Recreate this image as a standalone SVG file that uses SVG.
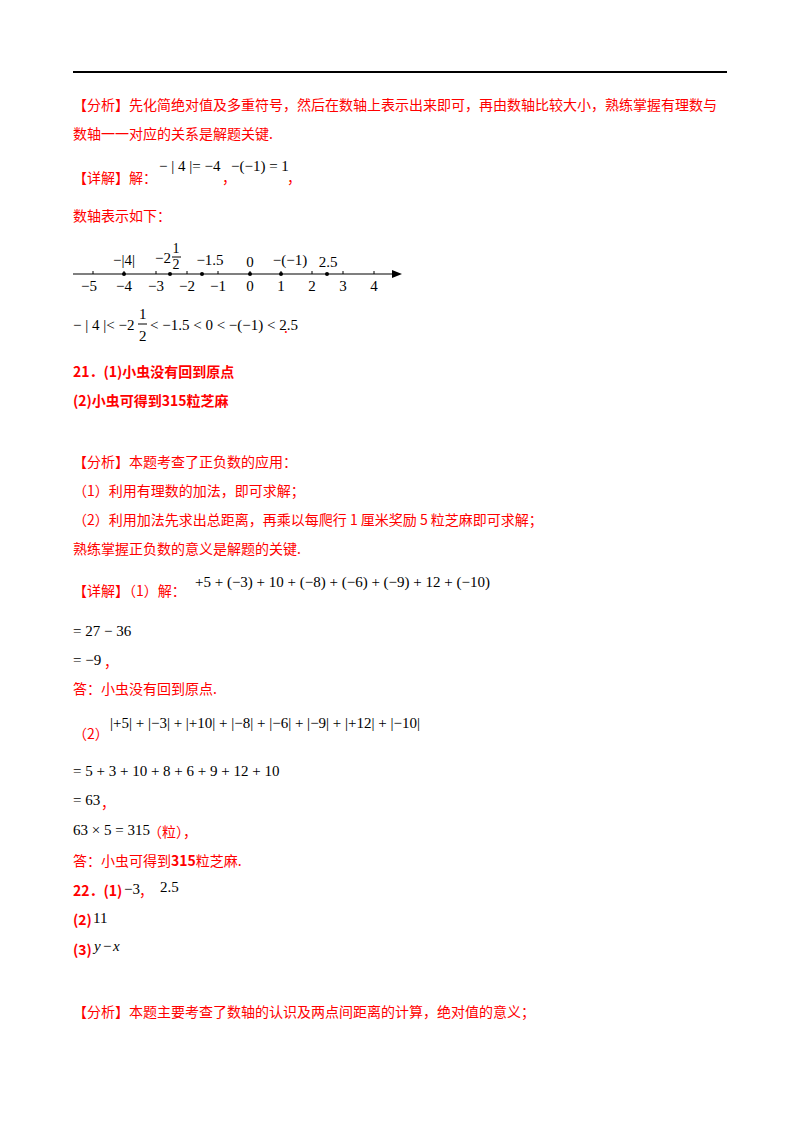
<svg xmlns="http://www.w3.org/2000/svg" width="800" height="1132" viewBox="0 0 800 1132">
<style>
.r{font-family:"Noto Sans CJK SC","Liberation Sans",sans-serif;font-size:14px;fill:#ff0000}
.b{font-weight:bold}
.m{font-family:"Liberation Serif",serif;font-size:15px;fill:#000}
.t{stroke:#000;stroke-width:1}
</style>
<rect width="800" height="1132" fill="#fff"/>
<line x1="73" y1="72" x2="727" y2="72" stroke="#000" stroke-width="2"/>
<text class="r" x="73" y="110">【分析】先化简绝对值及多重符号，然后在数轴上表示出来即可，再由数轴比较大小，熟练掌握有理数与</text>
<text class="r" x="73" y="139">数轴一一对应的关系是解题关键.</text>
<text class="r" x="73" y="183">【详解】解：</text>
<text class="m" x="159" y="171">− | 4 |= −4</text>
<text class="r" x="222" y="183">，</text>
<text class="m" x="231" y="171">−(−1) = 1</text>
<text class="r" x="287" y="183">，</text>
<text class="r" x="73" y="221">数轴表示如下：</text>
<g id="numberline">
<line x1="73" y1="274" x2="396" y2="274" stroke="#000" stroke-width="1.2"/>
<polygon points="402,274 392,270 392,278" fill="#000"/>
<g class="t">
<line x1="93" y1="271" x2="93" y2="274"/><line x1="124" y1="271" x2="124" y2="274"/><line x1="156" y1="271" x2="156" y2="274"/><line x1="187" y1="271" x2="187" y2="274"/><line x1="218" y1="271" x2="218" y2="274"/><line x1="250" y1="271" x2="250" y2="274"/><line x1="281" y1="271" x2="281" y2="274"/><line x1="312" y1="271" x2="312" y2="274"/><line x1="343" y1="271" x2="343" y2="274"/><line x1="374" y1="271" x2="374" y2="274"/>
</g>
<g fill="#000"><circle cx="124" cy="274" r="2"/><circle cx="170" cy="274" r="2"/><circle cx="202" cy="274" r="2"/><circle cx="250" cy="274" r="2"/><circle cx="281" cy="274" r="2"/><circle cx="327" cy="274" r="2"/></g>
<g class="m" text-anchor="middle">
<text x="89" y="291">−5</text><text x="124" y="291">−4</text><text x="156" y="291">−3</text><text x="187" y="291">−2</text><text x="218" y="291">−1</text><text x="250" y="291">0</text><text x="281" y="291">1</text><text x="312" y="291">2</text><text x="343" y="291">3</text><text x="374" y="291">4</text>
<text x="124" y="265">−|4|</text>
<text x="163" y="263">−2</text><text x="176" y="253" font-size="14">1</text><line x1="172" y1="257" x2="181" y2="257" stroke="#000"/><text x="176" y="269" font-size="14">2</text>
<text x="210" y="265">−1.5</text>
<text x="250" y="267">0</text><text x="290" y="265">−(−1)</text><text x="328" y="267">2.5</text>
</g>
</g>
<text class="m" x="73" y="330">− | 4 |&lt; −2</text><text class="m" x="139" y="319" font-size="13">1</text><line x1="138" y1="324" x2="147" y2="324" stroke="#000"/><text class="m" x="139" y="341" font-size="13">2</text><text class="m" x="150" y="330">&lt; −1.5 &lt; 0 &lt; −(−1) &lt; 2.5</text><text class="r" x="284" y="333">.</text>
<text class="r b" x="73" y="377">21．(1)小虫没有回到原点</text>
<text class="r b" x="73" y="406">(2)小虫可得到315粒芝麻</text>
<text class="r" x="73" y="467">【分析】本题考查了正负数的应用：</text>
<text class="r" x="73" y="496">（1）利用有理数的加法，即可求解；</text>
<text class="r" x="73" y="525">（2）利用加法先求出总距离，再乘以每爬行 1 厘米奖励 5 粒芝麻即可求解；</text>
<text class="r" x="73" y="554">熟练掌握正负数的意义是解题的关键.</text>
<text class="r" x="73" y="596">【详解】（1）解：</text>
<text class="m" x="195" y="587">+5 + (−3) + 10 + (−8) + (−6) + (−9) + 12 + (−10)</text>
<text class="m" x="73" y="636">= 27 − 36</text>
<text class="m" x="73" y="665">= −9</text><text class="r" x="104" y="667">，</text>
<text class="r" x="73" y="694">答：小虫没有回到原点.</text>
<text class="r" x="73" y="739">（2）</text>
<text class="m" x="110" y="728">|+5| + |−3| + |+10| + |−8| + |−6| + |−9| + |+12| + |−10|</text>
<text class="m" x="73" y="776">= 5 + 3 + 10 + 8 + 6 + 9 + 12 + 10</text>
<text class="m" x="73" y="805">= 63</text><text class="r" x="101" y="808">，</text>
<text class="m" x="73" y="835">63 × 5 = 315</text><text class="r" x="148" y="837">（粒），</text>
<text class="r" x="73" y="866">答：小虫可得到<tspan class="b">315</tspan>粒芝麻.</text>
<text class="r b" x="73" y="896">22．(1)</text><text class="m" x="124" y="894">−3</text><text class="r" x="139" y="896">，</text><text class="m" x="160" y="892">2.5</text>
<text class="r b" x="73" y="925">(2)</text><text class="m" x="93" y="923">11</text>
<text class="r b" x="73" y="955">(3)</text><text class="m" x="94" y="951" font-style="italic">y</text><text class="m" x="103" y="951">−</text><text class="m" x="113" y="951" font-style="italic">x</text>
<text class="r" x="73" y="1017">【分析】本题主要考查了数轴的认识及两点间距离的计算，绝对值的意义；</text>
</svg>
